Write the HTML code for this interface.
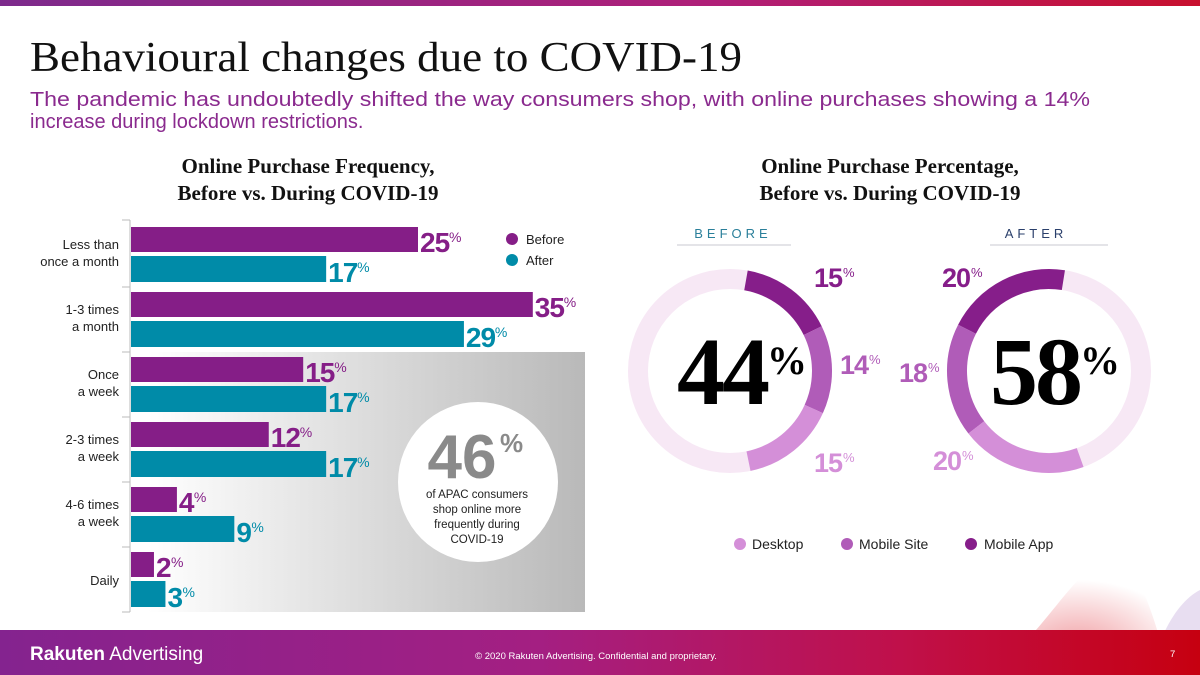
<!DOCTYPE html>
<html><head><meta charset="utf-8"><style>
html,body{margin:0;padding:0;background:#fff}
svg{display:block}
text{font-family:"Liberation Sans",sans-serif}
.serif{font-family:"Liberation Serif",serif}
.narrow{font-family:"Liberation Sans Narrow","Liberation Sans",sans-serif;font-weight:bold}
</style></head><body>
<svg id="s" width="1200" height="675" viewBox="0 0 1200 675" xmlns="http://www.w3.org/2000/svg">
<defs>
<linearGradient id="topg" x1="0" x2="1"><stop offset="0" stop-color="#7d2a8c"/><stop offset="0.6" stop-color="#b01f78"/><stop offset="1" stop-color="#c8102e"/></linearGradient>
<linearGradient id="footg" x1="0" x2="1"><stop offset="0" stop-color="#84238f"/><stop offset="0.45" stop-color="#a41f82"/><stop offset="0.75" stop-color="#c0104a"/><stop offset="1" stop-color="#c60010"/></linearGradient>
<linearGradient id="panelg" x1="0" x2="1"><stop offset="0" stop-color="#ffffff"/><stop offset="1" stop-color="#b9b9b9"/></linearGradient>
<radialGradient id="wave" cx="0.5" cy="0.8" r="0.6"><stop offset="0" stop-color="#e0303a" stop-opacity="0.8"/><stop offset="1" stop-color="#e0303a" stop-opacity="0"/></radialGradient>
</defs>
<rect x="0" y="0" width="1200" height="6" fill="url(#topg)"/>
<text x="30" y="71" class="serif" font-size="42" fill="#111" textLength="712" lengthAdjust="spacingAndGlyphs">Behavioural changes due to COVID-19</text>
<text x="30" y="106" font-size="20" fill="#8a2a8e" textLength="1060" lengthAdjust="spacingAndGlyphs">The pandemic has undoubtedly shifted the way consumers shop, with online purchases showing a 14%</text>
<text x="30" y="128" font-size="20" fill="#8a2a8e">increase during lockdown restrictions.</text>

<g>
<text x="308" y="173" text-anchor="middle" class="serif" font-weight="bold" font-size="21" fill="#111">Online Purchase Frequency,</text>
<text x="308" y="200" text-anchor="middle" class="serif" font-weight="bold" font-size="21" fill="#111">Before vs. During COVID-19</text>
</g>
<g>
<text x="890" y="173" text-anchor="middle" class="serif" font-weight="bold" font-size="21" fill="#111">Online Purchase Percentage,</text>
<text x="890" y="200" text-anchor="middle" class="serif" font-weight="bold" font-size="21" fill="#111">Before vs. During COVID-19</text>
</g>

<path d="M985 675 C1040 640 1060 590 1100 560 C1130 540 1150 600 1170 675 Z" fill="url(#wave)" opacity="0.6"/>
<path d="M1150 675 C1160 630 1180 600 1200 590 L1200 675Z" fill="#d8c8e8" opacity="0.6"/>

<rect x="148" y="352" width="437" height="260" fill="url(#panelg)"/>
<g id="bars"></g>
<circle cx="478" cy="482" r="80" fill="#fff"/>
<text x="462" y="478" text-anchor="middle" class="narrow" font-size="62" fill="#8a8a8a">46</text>
<text x="500" y="452" class="narrow" font-size="26" fill="#8a8a8a" font-weight="normal">%</text>
<g font-size="11.5" fill="#222" text-anchor="middle">
<text x="477" y="498">of APAC consumers</text><text x="477" y="513">shop online more</text><text x="477" y="528">frequently during</text><text x="477" y="543">COVID-19</text></g>

<g>
<circle cx="512" cy="239" r="6" fill="#851e87"/><text x="526" y="244" font-size="13" fill="#222">Before</text>
<circle cx="512" cy="260" r="6" fill="#008ba8"/><text x="526" y="265" font-size="13" fill="#222">After</text>
</g>

<g>
<text x="733" y="238" text-anchor="middle" font-size="13" letter-spacing="4" fill="#2a7f9a">BEFORE</text>
<line x1="677" y1="245" x2="791" y2="245" stroke="#c8c8d0" stroke-width="1"/></g>
<g>
<text x="1036" y="238" text-anchor="middle" font-size="13" letter-spacing="4" fill="#2a3f6b">AFTER</text>
<line x1="990" y1="245" x2="1108" y2="245" stroke="#c8c8d0" stroke-width="1"/></g>

<g id="donuts"></g>

<g>
<circle cx="740" cy="544" r="6" fill="#d48fd8"/><text x="752" y="549" font-size="14" fill="#222">Desktop</text>
<circle cx="847" cy="544" r="6" fill="#b05cb8"/><text x="859" y="549" font-size="14" fill="#222">Mobile Site</text>
<circle cx="971" cy="544" r="6" fill="#861e8a"/><text x="984" y="549" font-size="14" fill="#222">Mobile App</text>
</g>

<rect x="0" y="630" width="1200" height="45" fill="url(#footg)"/>
<text x="30" y="660" font-size="19" fill="#fff"><tspan font-weight="bold">Rakuten</tspan> Advertising</text>
<text x="596" y="659" text-anchor="middle" font-size="9.5" fill="#fff">© 2020 Rakuten Advertising. Confidential and proprietary.</text>
<text x="1170" y="657" font-size="9.5" fill="#fff">7</text>
</svg>
<script>
const categories=["Less than|once a month","1-3 times|a month","Once|a week","2-3 times|a week","4-6 times|a week","Daily"];
const beforeValues=[25,35,15,12,4,2];
const afterValues=[17,29,17,17,9,3];
const donutLabels=["Mobile App","Mobile Site","Desktop"];
const donutBefore=[15,14,15];
const donutAfter=[20,18,20];
const donutTotals=[44,58];

const NS="http://www.w3.org/2000/svg";
function mk(t,a,p){const e=document.createElementNS(NS,t);for(const k in a)e.setAttribute(k,a[k]);p.appendChild(e);return e;}
const x0=131,pxPer=11.48,gy0=227,gstep=65,bh=25;
const xs=v=>x0+v*pxPer;
const bars=document.getElementById('bars');
const axis=mk('line',{x1:130,y1:220,x2:130,y2:612,stroke:'#bbb'},bars);


for(let i=0;i<=categories.length;i++){const y=220+i*gstep+(i>0?2:0);const t=mk('line',{x1:122,y1:y,x2:130,y2:y,stroke:'#bbb'},bars);

}
function label(x,y,v,col,g){const t=mk('text',{x:x,y:y,class:'narrow','font-size':28,fill:col,'letter-spacing':-1},g);t.textContent=v;
const w=v>=10?29:15;const p=mk('text',{x:x+w,y:y-10,'font-size':14,fill:col},g);p.textContent='%';

}
categories.forEach((c,i)=>{const y=gy0+i*gstep;
 const g=mk('g',{},bars);
 
 
 const b=mk('rect',{x:x0,y:y,width:xs(beforeValues[i])-x0,height:bh,fill:'#851e87'},g);
 
 
 const a=mk('rect',{x:x0,y:y+29,width:xs(afterValues[i])-x0,height:bh+1,fill:'#008ba8'},g);
 
 
 label(xs(beforeValues[i])+2,y+25,beforeValues[i],'#851e87',g);
 label(xs(afterValues[i])+2,y+55,afterValues[i],'#008ba8',g);
 const parts=c.split('|');
 const tl=mk('text',{x:119,'text-anchor':'end','font-size':13,fill:'#222'},g);
 
 
 if(parts.length===2){const s1=mk('tspan',{x:119,y:y+22},tl);s1.textContent=parts[0];const s2=mk('tspan',{x:119,y:y+39},tl);s2.textContent=parts[1];}
 else{const s=mk('tspan',{x:119,y:y+33},tl);s.textContent=parts[0];}
});

const colors=['#861e8a','#b05cb8','#d48fd8'];
const don=document.getElementById('donuts');
function arc(cx,cy,r,a1,a2){const p=a=>[cx+r*Math.sin(a*Math.PI/180),cy-r*Math.cos(a*Math.PI/180)];
 const [x1,y1]=p(a1),[x2,y2]=p(a2);const large=Math.abs(a2-a1)>180?1:0;const sw=a2>a1?1:0;
 return `M${x1} ${y1} A${r} ${r} 0 ${large} ${sw} ${x2} ${y2}`;}
function donut(cx,cy,vals,start,dir,total,labelPos,tx,name){
 const g=mk('g',{},don);
 
 
 const bg=mk('circle',{cx:cx,cy:cy,r:92,fill:'none',stroke:'#f7e8f5','stroke-width':20},g);
 
 
 let a=start;
 vals.forEach((v,i)=>{const b=a+dir*v*3.6;
  const p=mk('path',{d:arc(cx,cy,92,a,b),fill:'none',stroke:colors[i],'stroke-width':20},g);
  
  
  const [lx,ly]=labelPos[i];
  const t=mk('text',{x:lx,y:ly,class:'narrow','font-size':27,fill:colors[i],'letter-spacing':-1,'text-anchor':'end'},g);
  t.textContent=v;
  
  
  const pc=mk('text',{x:lx+1,y:ly-10,'font-size':13,fill:colors[i]},g);pc.textContent='%';
  a=b;});
 const tt=mk('text',{x:tx,y:404,'text-anchor':'end',class:'serif','font-weight':'bold','font-size':96,fill:'#000','letter-spacing':-3},g);
 tt.textContent=total;
 
 
 const tp=mk('text',{x:tx,y:374,class:'serif','font-weight':'bold','font-size':40,fill:'#000'},g);tp.textContent='%';
}
donut(730,371,donutBefore,10,1,donutTotals[0],[[842,287],[868,374],[842,472]],767,'donut-before');
donut(1049,371,donutAfter,9,-1,donutTotals[1],[[970,287],[927,382],[961,470]],1080,'donut-after');
</script>
</body></html>
